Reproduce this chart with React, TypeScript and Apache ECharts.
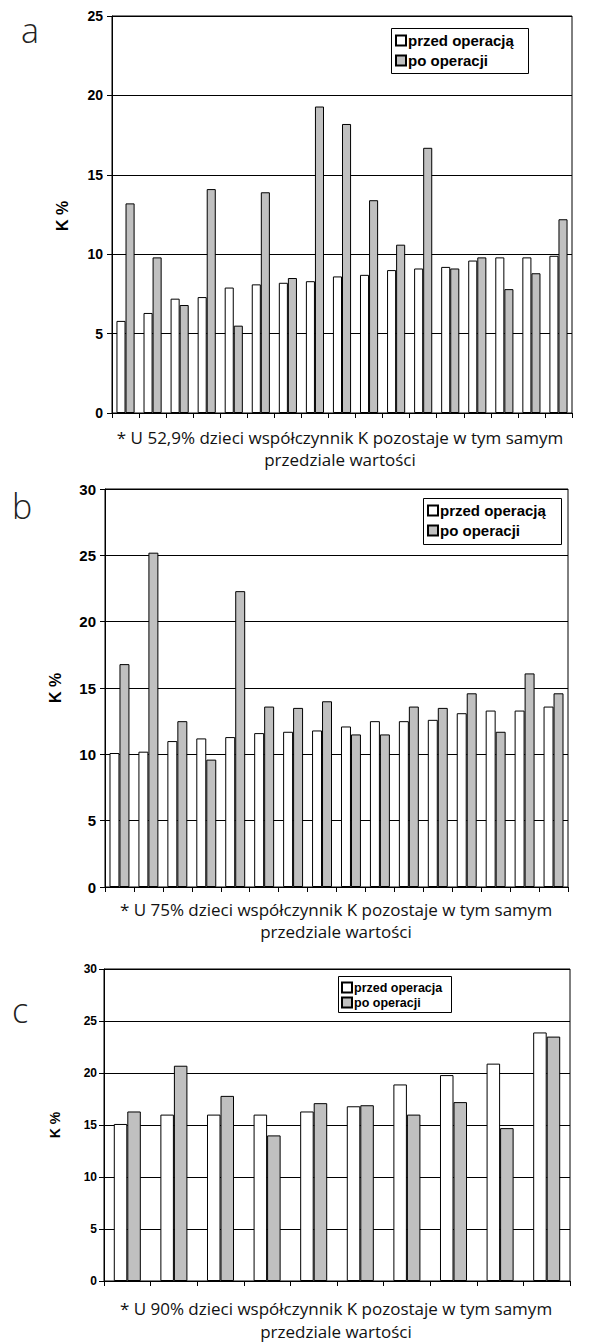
import React, { useEffect, useRef } from 'react';
import * as echarts from 'echarts';

const categoriesA = ['1','2','3','4','5','6','7','8','9','10','11','12','13','14','15','16','17'];
const beforeA = [5.8, 6.3, 7.2, 7.3, 7.9, 8.1, 8.2, 8.3, 8.6, 8.7, 9.0, 9.1, 9.2, 9.6, 9.8, 9.8, 9.9];
const afterA = [13.2, 9.8, 6.8, 14.1, 5.5, 13.9, 8.5, 19.3, 18.2, 13.4, 10.6, 16.7, 9.1, 9.8, 7.8, 8.8, 12.2];

const categoriesB = ['1','2','3','4','5','6','7','8','9','10','11','12','13','14','15','16'];
const beforeB = [10.1, 10.2, 11.0, 11.2, 11.3, 11.6, 11.7, 11.8, 12.1, 12.5, 12.5, 12.6, 13.1, 13.3, 13.3, 13.6];
const afterB = [16.8, 25.2, 12.5, 9.6, 22.3, 13.6, 13.5, 14.0, 11.5, 11.5, 13.6, 13.5, 14.6, 11.7, 16.1, 14.6];

const categoriesC = ['1','2','3','4','5','6','7','8','9','10'];
const beforeC = [15.1, 16.0, 16.0, 16.0, 16.3, 16.8, 18.9, 19.8, 20.9, 23.9];
const afterC = [16.3, 20.7, 17.8, 14.0, 17.1, 16.9, 16.0, 17.2, 14.7, 23.5];

const yMaxA = 25;
const yMaxB = 30;
const yMaxC = 30;

const nameBeforeAB = 'przed operacją';
const nameBeforeC = 'przed operacja';
const nameAfter = 'po operacji';

const captionA = ['* U 52,9% dzieci współczynnik K pozostaje w tym samym', 'przedziale wartości'];
const captionB = ['* U 75% dzieci współczynnik K pozostaje w tym samym', 'przedziale wartości'];
const captionC = ['* U 90% dzieci współczynnik K pozostaje w tym samym', 'przedziale wartości'];

const AXIS_FONT = '"Liberation Sans", Arial, sans-serif';
const CAP_FONT = '"Open Sans", "Noto Sans", sans-serif';
const GRAY = '#c0c0c0';

export default function App() {
  const ref = useRef<HTMLDivElement>(null);
  useEffect(() => {
    if (!ref.current) return;
    const chart = echarts.init(ref.current, null, { renderer: 'svg' });

    const grids = [
      { left: 112, top: 16, width: 460, height: 397 },
      { left: 105, top: 489, width: 463, height: 398 },
      { left: 104, top: 969, width: 466, height: 312 },
    ];
    const labelSizes = [14, 15, 12];
    const labelMargins = [9, 9, 7];
    const cats = [categoriesA, categoriesB, categoriesC];
    const maxes = [yMaxA, yMaxB, yMaxC];

    const xAxis = grids.map((_, i) => ({
      type: 'category',
      gridIndex: i,
      data: cats[i],
      boundaryGap: true,
      axisLine: { show: true, lineStyle: { color: '#000', width: 1 } },
      axisTick: { show: true, length: 5, inside: false, lineStyle: { color: '#000' } },
      axisLabel: { show: false },
      splitLine: { show: false },
    }));
    const yAxis = grids.map((_, i) => ({
      type: 'value',
      gridIndex: i,
      min: 0,
      max: maxes[i],
      interval: 5,
      axisLine: { show: true, lineStyle: { color: '#000', width: 1 } },
      axisTick: { show: true, length: 5, inside: false, lineStyle: { color: '#000' } },
      axisLabel: {
        color: '#000',
        fontFamily: AXIS_FONT,
        fontWeight: 'bold',
        fontSize: labelSizes[i],
        margin: labelMargins[i],
      },
      splitLine: { show: true, lineStyle: { color: '#000', width: 1 } },
    }));

    const barStyleWhite = { color: '#fff', borderColor: '#000', borderWidth: 1 };
    const barStyleGray = { color: GRAY, borderColor: '#000', borderWidth: 1 };
    const catGaps = ['33%', '31%', '42%'];
    const data = [
      [beforeA, afterA, nameBeforeAB],
      [beforeB, afterB, nameBeforeAB],
      [beforeC, afterC, nameBeforeC],
    ] as const;
    const series: any[] = [];
    data.forEach((d, i) => {
      series.push({
        type: 'bar',
        name: d[2],
        xAxisIndex: i,
        yAxisIndex: i,
        data: d[0],
        barGap: '0%',
        barCategoryGap: catGaps[i],
        itemStyle: barStyleWhite,
        silent: true,
      });
      series.push({
        type: 'bar',
        name: nameAfter,
        xAxisIndex: i,
        yAxisIndex: i,
        data: d[1],
        barGap: '0%',
        barCategoryGap: catGaps[i],
        itemStyle: barStyleGray,
        silent: true,
      });
    });

    const legendCfg = (left: number, top: number, names: string[], fs: number, gap: number) => ({
      show: true,
      orient: 'vertical',
      left,
      top,
      data: names,
      icon: 'rect',
      itemWidth: 10,
      itemHeight: 10,
      itemGap: gap,
      padding: 0,
      borderWidth: 0,
      selectedMode: false,
      z: 12,
      textStyle: { color: '#000', fontFamily: AXIS_FONT, fontWeight: 'bold', fontSize: fs, padding: [0, 0, 0, -3] },
    });
    const legendBox = (x: number, y: number, w: number, h: number) => ({
      type: 'rect',
      z: 11,
      shape: { x, y, width: w, height: h },
      style: { fill: '#fff', stroke: '#000', lineWidth: 1 },
    });

    const kLabel = (x: number, y: number, fs: number) => ({
      type: 'text',
      x,
      y,
      rotation: Math.PI / 2,
      style: {
        text: 'K %',
        fill: '#000',
        font: `bold ${fs}px ${AXIS_FONT}`,
        textAlign: 'center',
        textVerticalAlign: 'middle',
      },
    });
    const letter = (t: string, x: number, y: number) => ({
      type: 'text',
      x,
      y,
      style: {
        text: t,
        fill: '#222',
        font: `300 34px ${CAP_FONT}`,
        textAlign: 'left',
        textVerticalAlign: 'middle',
      },
    });
    const capStyle = (text: string) => ({
      text,
      fill: '#111',
      font: `400 17px ${CAP_FONT}`,
      textAlign: 'center',
      textVerticalAlign: 'middle',
    });
    const caption = (lines: string[], cx: number, y1: number, y2: number) => [
      { type: 'text', x: cx, y: y1, style: capStyle(lines[0]) },
      { type: 'text', x: cx, y: y2, style: capStyle(lines[1]) },
    ];

    chart.setOption({
      animation: false,
      backgroundColor: '#fff',
      grid: grids.map((g) => ({
        ...g,
        show: true,
        borderColor: '#000',
        borderWidth: 1,
        backgroundColor: 'transparent',
        containLabel: false,
        outerBoundsMode: 'none',
      })),
      xAxis,
      yAxis,
      series,
      legend: [
        legendCfg(395, 33, [nameBeforeAB, nameAfter], 15, 5),
        legendCfg(427, 503, [nameBeforeAB, nameAfter], 15, 5),
        legendCfg(341, 981, [nameBeforeC, nameAfter], 12.5, 2),
      ],
      graphic: [
        legendBox(391.5, 28.5, 137, 45),
        legendBox(423.5, 498.5, 138, 46),
        legendBox(338.5, 976.5, 113, 36),
        letter('a', 21, 30),
        letter('b', 12, 506),
        letter('c', 12, 1010),
        kLabel(62, 216, 16),
        kLabel(55, 688, 16),
        kLabel(55, 1125, 14),
        ...caption(captionA, 340, 437, 459),
        ...caption(captionB, 336, 909, 931),
        ...caption(captionC, 336, 1308, 1331),
      ],
    });
    return () => chart.dispose();
  }, []);
  return <div ref={ref} style={{ position: 'absolute', left: 0, top: 0, width: 590, height: 1343 }} />;
}
